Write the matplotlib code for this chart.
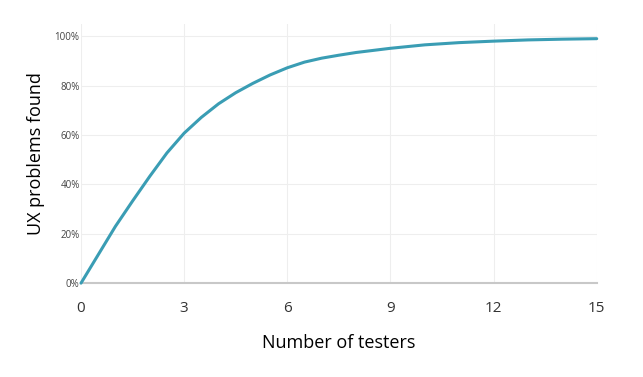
import numpy as np
import matplotlib.pyplot as plt
from matplotlib.ticker import FuncFormatter

# Values
testers = [0, 0.5, 1, 1.5, 2, 2.5, 3, 3.5, 4, 4.5, 5, 5.5, 6, 6.5, 7, 7.5,
           8, 9, 10, 11, 12, 13, 14, 15]
found_pct = [0, 11.5, 23, 33.3, 43.3, 52.8, 60.8, 67.2, 72.7, 77.2, 81, 84.4,
             87.3, 89.6, 91.2, 92.4, 93.5, 95.2, 96.6, 97.5, 98.1, 98.6,
             98.9, 99.1]
x_ticks = [0, 3, 6, 9, 12, 15]
y_ticks = [0, 20, 40, 60, 80, 100]

LINE_COLOR = '#3a9db4'

plt.rcParams['font.family'] = ['Open Sans', 'DejaVu Sans']

fig = plt.figure(figsize=(6.43, 3.77), dpi=100)
ax = fig.add_axes([0.126, 0.249, 0.802, 0.687])

ax.plot(testers, found_pct, color=LINE_COLOR, linewidth=2.2,
        solid_capstyle='round', solid_joinstyle='round', zorder=3, clip_on=False)

ax.set_xlim(0, 15)
ax.set_ylim(0, 105)
ax.set_xticks(x_ticks)
ax.set_yticks(y_ticks)
ax.yaxis.set_major_formatter(FuncFormatter(lambda v, p: f'{int(v)}%'))

ax.grid(True, color='#eeeeee', linewidth=0.8, zorder=0)
for side in ['top', 'right', 'left']:
    ax.spines[side].set_visible(False)
ax.spines['bottom'].set_color('#c8c8c8')
ax.spines['bottom'].set_linewidth(1.5)

ax.tick_params(axis='both', length=0)
ax.tick_params(axis='y', labelsize=7, labelcolor='#444444', pad=1)
ax.tick_params(axis='x', labelsize=11, labelcolor='#333333', pad=13)

ax.set_xlabel('Number of testers', fontsize=13, color='black', labelpad=13)
ax.set_ylabel('UX problems found', fontsize=13, color='black', labelpad=7)

fig.savefig('out.png', dpi=100)
